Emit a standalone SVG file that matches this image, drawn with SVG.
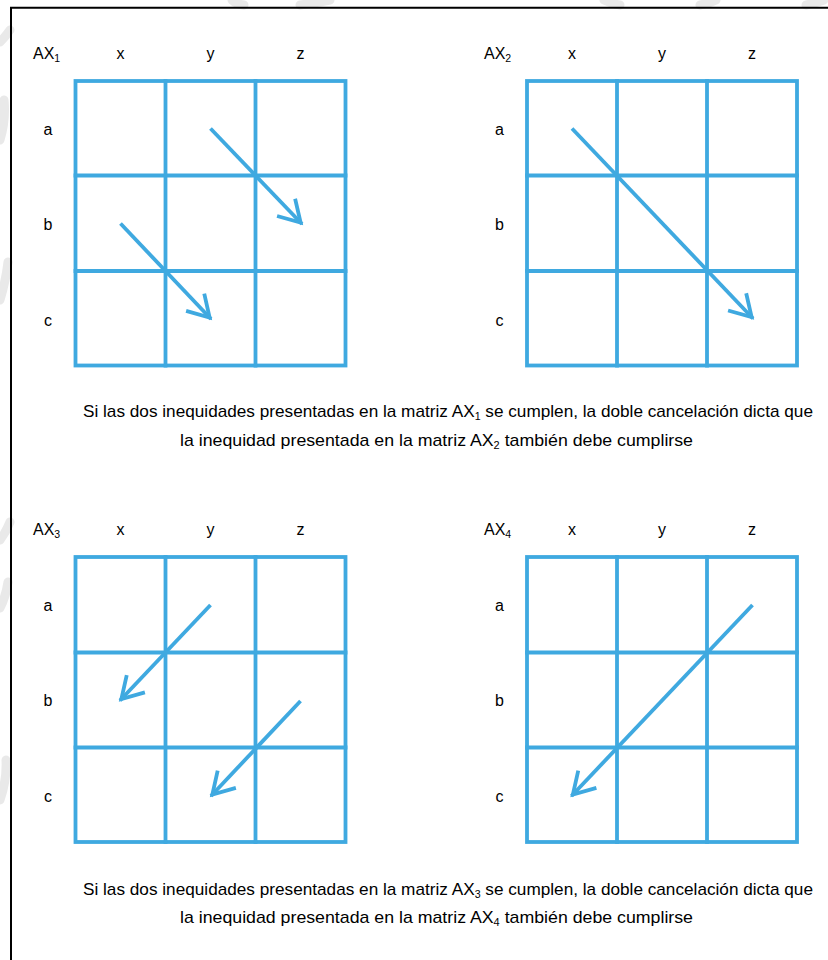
<svg xmlns="http://www.w3.org/2000/svg" width="828" height="960" viewBox="0 0 828 960">
<style>
.g{fill:none;stroke:#3FA9E0;stroke-width:3.8;stroke-linecap:square}
.a{fill:none;stroke:#3FA9E0;stroke-width:3.8;marker-end:url(#ah)}
.t{font-family:"Liberation Sans",Arial,sans-serif;fill:#000;font-size:16px}
.h{text-anchor:middle}
.s{font-size:10.5px}
.b{font-family:"Liberation Sans",Arial,sans-serif;fill:#000;font-size:17px;text-anchor:middle}
.w{fill:none;stroke:#e9e9e9;stroke-width:9;stroke-linecap:round}
</style>
<defs>
<marker id="ah" markerUnits="userSpaceOnUse" viewBox="-28 -18 34 36" markerWidth="34" markerHeight="36" refX="2" refY="0" orient="auto">
<path d="M-21,-12.5 L0,0 L-21,12.5" fill="none" stroke="#3FA9E0" stroke-width="3.8" stroke-linejoin="miter"/>
</marker>
</defs>
<rect width="828" height="960" fill="#fff"/>
<g id="watermark">
<path class="w" d="M0,42 Q6,36 10,30"/>
<path class="w" d="M0,140 Q6,120 4,100"/>
<path class="w" d="M0,300 Q6,280 8,262"/>
<path class="w" d="M0,540 Q6,532 10,522"/>
<path class="w" d="M0,608 Q6,596 8,582"/>
<path class="w" d="M0,800 Q7,780 6,760"/>
<path class="w" d="M232,0 Q236,4 244,5"/>
<path class="w" d="M300,5 Q316,3 330,0"/>
<path class="w" d="M604,0 Q612,4 620,5"/>
<path class="w" d="M700,5 Q710,3 716,0"/>
<path class="w" d="M806,5 Q816,3 824,0"/>
</g>
<path d="M11,960 V7.7 H828" fill="none" stroke="#000" stroke-width="2"/>

<g id="ax1">
<text class="t" x="33" y="59">AX<tspan class="s" dy="3">1</tspan></text>
<text class="t h" x="120.5" y="59">x</text>
<text class="t h" x="210.5" y="59">y</text>
<text class="t h" x="300.5" y="59">z</text>
<text class="t h" x="48" y="135">a</text>
<text class="t h" x="48" y="230">b</text>
<text class="t h" x="48" y="326">c</text>
<rect class="g" x="75.5" y="81" width="270" height="284.5"/>
<path class="g" d="M165.5,81V365.5M255.5,81V365.5M75.5,175.5H345.5M75.5,271H345.5"/>
</g>

<g id="ax2">
<text class="t" x="484" y="59">AX<tspan class="s" dy="3">2</tspan></text>
<text class="t h" x="572" y="59">x</text>
<text class="t h" x="662" y="59">y</text>
<text class="t h" x="752" y="59">z</text>
<text class="t h" x="499.5" y="135">a</text>
<text class="t h" x="499.5" y="230">b</text>
<text class="t h" x="499.5" y="326">c</text>
<rect class="g" x="527" y="81" width="270" height="284.5"/>
<path class="g" d="M617,81V365.5M707,81V365.5M527,175.5H797M527,271H797"/>
</g>

<g id="ax3">
<text class="t" x="33" y="535">AX<tspan class="s" dy="3">3</tspan></text>
<text class="t h" x="120.5" y="535">x</text>
<text class="t h" x="210.5" y="535">y</text>
<text class="t h" x="300.5" y="535">z</text>
<text class="t h" x="48" y="611">a</text>
<text class="t h" x="48" y="706">b</text>
<text class="t h" x="48" y="802">c</text>
<rect class="g" x="75.5" y="557" width="270" height="285"/>
<path class="g" d="M165.5,557V842M255.5,557V842M75.5,652.5H345.5M75.5,747.5H345.5"/>
</g>

<g id="ax4">
<text class="t" x="484" y="535">AX<tspan class="s" dy="3">4</tspan></text>
<text class="t h" x="572" y="535">x</text>
<text class="t h" x="662" y="535">y</text>
<text class="t h" x="752" y="535">z</text>
<text class="t h" x="499.5" y="611">a</text>
<text class="t h" x="499.5" y="706">b</text>
<text class="t h" x="499.5" y="802">c</text>
<rect class="g" x="527" y="557" width="270" height="285"/>
<path class="g" d="M617,557V842M707,557V842M527,652.5H797M527,747.5H797"/>
</g>

<g id="connectors">
<line class="a" x1="210.5" y1="128.5" x2="302" y2="224"/>
<line class="a" x1="120.5" y1="223.5" x2="211" y2="319"/>
<line class="a" x1="572" y1="128.5" x2="753" y2="318.5"/>
<line class="a" x1="210.5" y1="605" x2="120" y2="700.5"/>
<line class="a" x1="300.5" y1="701" x2="211" y2="796"/>
<line class="a" x1="752.5" y1="605" x2="571.5" y2="796"/>
</g>

<g id="caption1">
<text class="b" x="448" y="417" textLength="730" lengthAdjust="spacingAndGlyphs">Si las dos inequidades presentadas en la matriz AX<tspan class="s" dy="3">1</tspan><tspan dy="-3"> se cumplen, la doble cancelación dicta que</tspan></text>
<text class="b" x="436.5" y="446" textLength="513" lengthAdjust="spacingAndGlyphs">la inequidad presentada en la matriz AX<tspan class="s" dy="3">2</tspan><tspan dy="-3"> también debe cumplirse</tspan></text>
</g>
<g id="caption2">
<text class="b" x="448" y="895" textLength="730" lengthAdjust="spacingAndGlyphs">Si las dos inequidades presentadas en la matriz AX<tspan class="s" dy="3">3</tspan><tspan dy="-3"> se cumplen, la doble cancelación dicta que</tspan></text>
<text class="b" x="436.5" y="923" textLength="513" lengthAdjust="spacingAndGlyphs">la inequidad presentada en la matriz AX<tspan class="s" dy="3">4</tspan><tspan dy="-3"> también debe cumplirse</tspan></text>
</g>
</svg>
